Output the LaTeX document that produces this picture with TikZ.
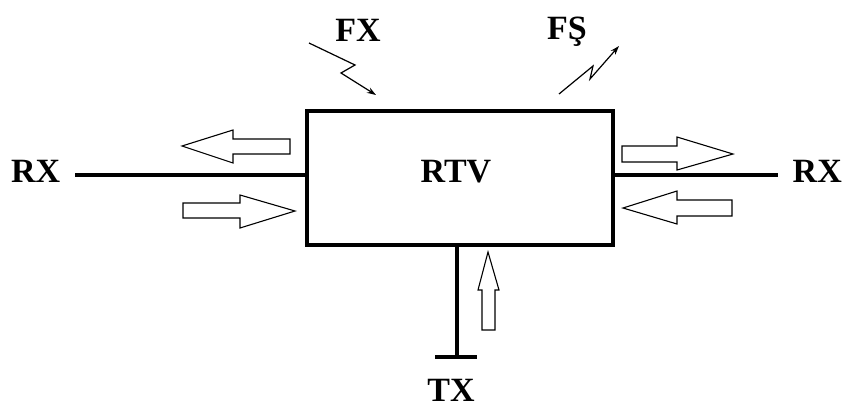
\documentclass[tikz,border=0pt]{standalone}
\usepackage{fontspec}
\setmainfont{Liberation Serif}
\usetikzlibrary{arrows.meta}
\begin{document}
\begin{tikzpicture}[x=1pt,y=-1pt,
  lbl/.style={font=\bfseries\fontsize{34}{34}\selectfont, inner sep=0pt},
  wire/.style={line width=3.5pt},
  hollow/.style={draw=black, line width=1.1pt, fill=white},
  bolt/.style={line width=1.2pt, -{Stealth[length=9pt,width=6pt]}}]
\useasboundingbox (0,0) rectangle (843,410);
% box
\node[draw, line width=3.5pt, minimum width=306pt, minimum height=134pt, inner sep=0pt] (box) at (460,178) {};
\node[lbl] (rtv) at (456,172) {RTV};
% left wire
\node[lbl, anchor=west] (rxl) at (11,171) {RX};
\coordinate (lw) at (75,175);
\draw[wire] (lw) -- (lw -| box.west);
% right wire
\node[lbl, anchor=east] (rxr) at (842,171) {RX};
\coordinate (rw) at (778,175);
\draw[wire] (rw -| box.east) -- (rw);
% bottom wire
\coordinate (bt) at (457,357);
\draw[wire] (bt |- box.south) -- (bt);
\draw[wire] (435,357) -- (477,357);
\node[lbl] (tx) at (451,390) {TX};
% hollow arrows
\draw[hollow] (290,139) -- (233,139) -- (233,130) -- (182,146) -- (233,163) -- (233,154) -- (290,154) -- cycle;
\draw[hollow] (183,203) -- (240,203) -- (240,195) -- (295,211) -- (240,228) -- (240,218) -- (183,218) -- cycle;
\draw[hollow] (622,146) -- (677,146) -- (677,137) -- (733,154) -- (677,170) -- (677,162) -- (622,162) -- cycle;
\draw[hollow] (732,200) -- (677,200) -- (677,191) -- (623,208) -- (677,224) -- (677,216) -- (732,216) -- cycle;
\draw[hollow] (482,330) -- (482,290) -- (478,290) -- (488,252) -- (499,290) -- (495,290) -- (495,330) -- cycle;
% lightning
\node[lbl] (fx) at (358,30) {FX};
\node[lbl] (fs) at (567,32) {FŞ};
\coordinate (fx0) at (309,43);
\coordinate (fx1) at (355,65);
\coordinate (fx2) at (341,73);
\coordinate (fx3) at (376,95);
\draw[bolt] (fx0) -- (fx1) -- (fx2) -- (fx3);
\coordinate (fs0) at (559,94);
\coordinate (fs1) at (593,66);
\coordinate (fs2) at (590,79);
\coordinate (fs3) at (619,46);
\draw[bolt] (fs0) -- (fs1) -- (fs2) -- (fs3);
\end{tikzpicture}
\end{document}
